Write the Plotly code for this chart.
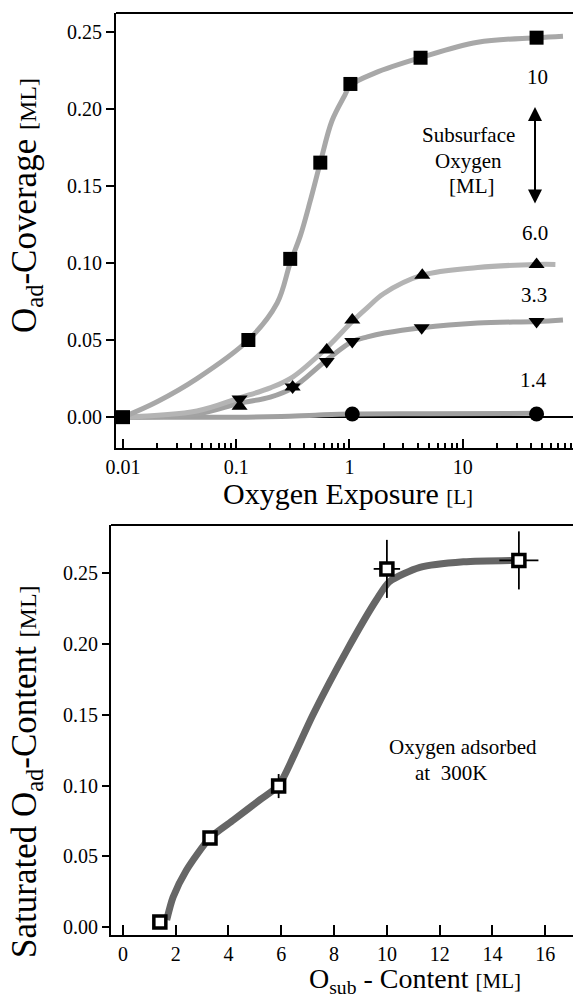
import plotly.graph_objects as go

W, H = 573, 999
FONT = "'Liberation Serif', 'Times New Roman', Times, 'DejaVu Serif', serif"

# ---------------- Top panel data: O_ad coverage vs oxygen exposure ----------------
exposure_sq = [0.01, 0.128, 0.30, 0.553, 1.02, 4.25, 45]
cov_sq = [0.0, 0.050, 0.1026, 0.165, 0.216, 0.233, 0.246]          # 10 ML subsurface

exposure_up = [0.107, 0.315, 0.63, 1.06, 4.4, 45]
cov_up = [0.0071, 0.0195, 0.0435, 0.063, 0.092, 0.099]              # 6.0 ML

exposure_dn = [0.107, 0.315, 0.63, 1.06, 4.35, 45]
cov_dn = [0.0117, 0.0195, 0.036, 0.049, 0.058, 0.062]               # 3.3 ML

exposure_ci = [1.06, 45]
cov_ci = [0.002, 0.002]                                              # 1.4 ML

# guide-to-the-eye curves
fit_sq_x = [0.01, 0.02, 0.045, 0.128, 0.23, 0.30, 0.37, 0.45, 0.553, 0.70, 0.90, 1.02, 1.67, 4.25, 13.6, 45, 77]
fit_sq_y = [0.0, 0.010, 0.025, 0.050, 0.074, 0.100, 0.118, 0.140, 0.165, 0.192, 0.208, 0.215, 0.223, 0.233, 0.243, 0.246, 0.247]

fit_up_x = [0.01, 0.045, 0.107, 0.2, 0.315, 0.63, 1.06, 1.44, 2.0, 4.4, 13.6, 45, 66]
fit_up_y = [0.0, 0.004, 0.0125, 0.019, 0.026, 0.045, 0.062, 0.071, 0.080, 0.092, 0.097, 0.099, 0.099]

fit_dn_x = [0.01, 0.045, 0.107, 0.2, 0.315, 0.63, 1.06, 1.44, 2.04, 4.35, 13.6, 45, 77]
fit_dn_y = [0.0, 0.002, 0.009, 0.013, 0.019, 0.037, 0.049, 0.052, 0.0545, 0.058, 0.061, 0.062, 0.063]

fit_ci_x = [0.01, 0.1, 0.25, 0.5, 1.06, 5, 45]
fit_ci_y = [0.0, 0.0, 0.0005, 0.0013, 0.002, 0.0022, 0.0025]

top_xticks = [0.01, 0.1, 1, 10]
top_xticklabels = ["0.01", "0.1", "1", "10"]
top_minor = [0.02, 0.03, 0.04, 0.05, 0.06, 0.07, 0.08, 0.09,
             0.2, 0.3, 0.4, 0.5, 0.6, 0.7, 0.8, 0.9,
             2, 3, 4, 5, 6, 7, 8, 9,
             20, 30, 40, 50, 60, 70, 80, 90]
top_yticks = [0.0, 0.05, 0.10, 0.15, 0.20, 0.25]

# ---------------- Bottom panel data: saturated O_ad vs O_sub ----------------
osub = [1.4, 3.3, 5.9, 10.0, 15.0]
sat_oad = [0.0035, 0.063, 0.0996, 0.253, 0.259]
err_oad = [0.0, 0.0, 0.0085, 0.0205, 0.0205]
err_osub = [0.0, 0.0, 0.0, 0.5, 0.74]

fit_b_x = [1.66, 1.9, 2.4, 3.3, 4.2, 5.2, 5.9, 6.5, 7.2, 8.5, 9.6, 10.1, 11.25, 12.9, 14.8]
fit_b_y = [0.005, 0.021, 0.040, 0.063, 0.0758, 0.090, 0.100, 0.122, 0.150, 0.196, 0.231, 0.244, 0.254, 0.258, 0.259]

bot_xticks = [0, 2, 4, 6, 8, 10, 12, 14, 16]
bot_yticks = [0.0, 0.05, 0.10, 0.15, 0.20, 0.25]


def px(x, y):
    return x / W, 1 - y / H


fig = go.Figure()

# top panel curves
fig.add_trace(go.Scatter(x=fit_ci_x, y=fit_ci_y, mode="lines", line=dict(color="#a0a0a0", width=5, shape="spline"),
                         xaxis="x", yaxis="y", showlegend=False))
fig.add_trace(go.Scatter(x=fit_dn_x, y=fit_dn_y, mode="lines", line=dict(color="#a2a2a2", width=5, shape="spline"),
                         xaxis="x", yaxis="y", showlegend=False))
fig.add_trace(go.Scatter(x=fit_up_x, y=fit_up_y, mode="lines", line=dict(color="#b4b4b4", width=5, shape="spline"),
                         xaxis="x", yaxis="y", showlegend=False))
fig.add_trace(go.Scatter(x=fit_sq_x, y=fit_sq_y, mode="lines", line=dict(color="#a8a8a8", width=5, shape="spline"),
                         xaxis="x", yaxis="y", showlegend=False))

# top panel markers
fig.add_trace(go.Scatter(x=exposure_ci, y=cov_ci, mode="markers",
                         marker=dict(symbol="circle", size=15, color="black"), xaxis="x", yaxis="y", showlegend=False))
fig.add_trace(go.Scatter(x=exposure_dn, y=cov_dn, mode="markers",
                         marker=dict(symbol="triangle-down", size=14, color="black"), xaxis="x", yaxis="y", showlegend=False))
fig.add_trace(go.Scatter(x=exposure_up, y=cov_up, mode="markers",
                         marker=dict(symbol="triangle-up", size=14, color="black"), xaxis="x", yaxis="y", showlegend=False))
fig.add_trace(go.Scatter(x=exposure_sq, y=cov_sq, mode="markers",
                         marker=dict(symbol="square", size=14, color="black"), xaxis="x", yaxis="y", showlegend=False))

# bottom panel
fig.add_trace(go.Scatter(x=fit_b_x, y=fit_b_y, mode="lines",
                         line=dict(color="#666666", width=7, shape="spline", smoothing=0.7),
                         xaxis="x2", yaxis="y2", showlegend=False))
fig.add_trace(go.Scatter(x=osub, y=sat_oad, mode="markers",
                         marker=dict(symbol="square", size=12, color="white", line=dict(color="black", width=3.5)),
                         error_y=dict(type="data", array=err_oad, color="black", thickness=1.8, width=0),
                         error_x=dict(type="data", array=err_osub, color="black", thickness=1.8, width=0),
                         xaxis="x2", yaxis="y2", showlegend=False))

tickfont = dict(family=FONT, size=20, color="black")

fig.update_layout(
    width=W, height=H,
    margin=dict(l=0, r=0, t=0, b=0),
    paper_bgcolor="white", plot_bgcolor="white",
    font=dict(family=FONT, color="black"),
    xaxis=dict(domain=[116 / W, 1], type="log", range=[-2.062, 1.975], anchor="y",
               tickmode="array", tickvals=top_xticks, ticktext=top_xticklabels,
               ticks="inside", ticklen=9, tickwidth=1.5, tickcolor="black",
               minor=dict(tickmode="array", tickvals=top_minor, ticks="inside", ticklen=5, tickwidth=1.5,
                          tickcolor="black", showgrid=False),
               showline=True, linecolor="black", linewidth=2, showgrid=False, zeroline=False,
               tickfont=tickfont, automargin=False),
    yaxis=dict(domain=[1 - 448 / H, 1 - 13 / H], range=[-0.020, 0.262], anchor="x",
               tickmode="array", tickvals=top_yticks, tickformat=".2f",
               ticks="outside", ticklen=8, tickwidth=1.5, tickcolor="black",
               showline=True, linecolor="black", linewidth=2, showgrid=False,
               zeroline=True, zerolinecolor="black", zerolinewidth=2,
               tickfont=tickfont, automargin=False),
    xaxis2=dict(domain=[111 / W, 1], range=[-0.45, 17.05], anchor="y2",
                tickmode="array", tickvals=bot_xticks,
                ticks="inside", ticklen=10, tickwidth=1.5, tickcolor="black",
                showline=True, linecolor="black", linewidth=2, showgrid=False, zeroline=False,
                tickfont=tickfont, automargin=False),
    yaxis2=dict(domain=[1 - 935 / H, 1 - 525 / H], range=[-0.0056, 0.284], anchor="x2",
                tickmode="array", tickvals=bot_yticks, tickformat=".2f",
                ticks="outside", ticklen=7, tickwidth=1.5, tickcolor="black",
                showline=True, linecolor="black", linewidth=2, showgrid=False, zeroline=False,
                tickfont=tickfont, automargin=False),
    shapes=[
        dict(type="line", xref="x domain", yref="y domain", x0=0, x1=1, y0=1, y1=1,
             line=dict(color="black", width=2)),
        dict(type="line", xref="x2 domain", yref="y2 domain", x0=0, x1=1, y0=1, y1=1,
             line=dict(color="black", width=2)),
    ],
)

annots = []


def label(text, x, y, size=21, angle=0, xanchor="center", yanchor="middle"):
    ax, ay = px(x, y)
    annots.append(dict(text=text, x=ax, y=ay, xref="paper", yref="paper", showarrow=False,
                       textangle=angle, xanchor=xanchor, yanchor=yanchor,
                       font=dict(family=FONT, size=size, color="black")))


# panel labels
label("10", 537, 77)
label("Subsurface", 468, 135)
label("Oxygen", 468, 161)
label("[ML]", 472, 186)
label("6.0", 535, 233)
label("3.3", 534, 295)
label("1.4", 533, 380)
label("Oxygen adsorbed", 463, 747)
label("at  300K", 451, 773)

# axis titles
label("Oxygen Exposure <span style='font-size:21px'>[L]</span>", 348, 493, size=30)
label("O<sub>ad</sub>-Coverage <span style='font-size:24px'>[ML]</span>", 26, 206, size=35, angle=-90)
label("O<sub>sub</sub> - Content <span style='font-size:21px'>[ML]</span>", 415, 980, size=28)
label("Saturated O<sub>ad</sub>-Content <span style='font-size:24px'>[ML]</span>", 26, 772, size=35, angle=-90)

# double-headed arrow
x0, y0 = px(535, 107)
annots.append(dict(x=x0, y=y0, xref="paper", yref="paper", ax=0, ay=98, axref="pixel", ayref="pixel",
                   text="", showarrow=True, arrowhead=2, arrowside="end+start", arrowsize=1.4,
                   arrowwidth=2, arrowcolor="black"))

fig.update_layout(annotations=annots)

fig.write_html("out.html")
